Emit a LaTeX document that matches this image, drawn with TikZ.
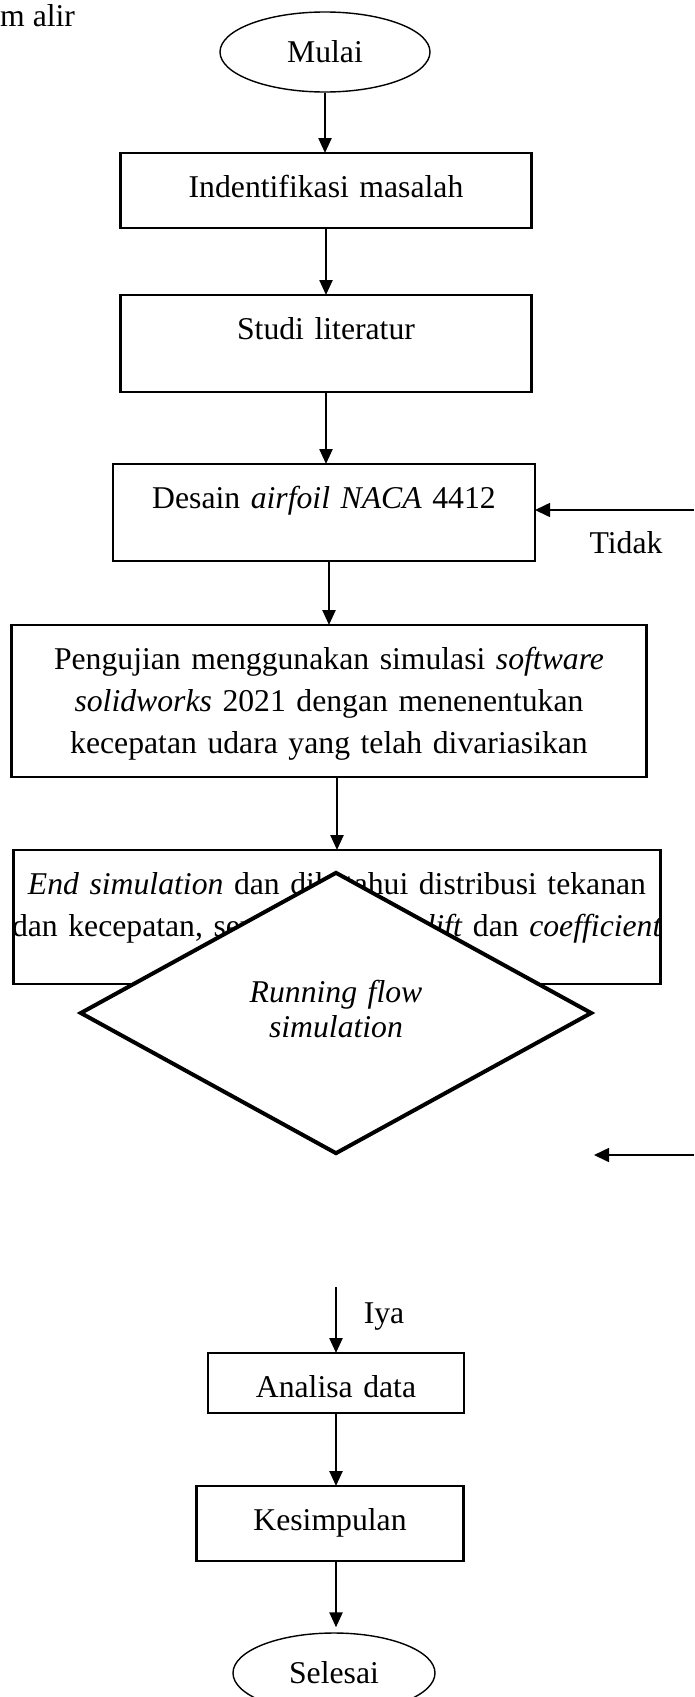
\documentclass[tikz,border=0pt]{standalone}
\usepackage{fontspec}
\setmainfont{Liberation Serif}
\usetikzlibrary{shapes.geometric, arrows.meta, positioning, calc}

\begin{document}
\begin{tikzpicture}[x=1pt, y=-1pt, font=\fontsize{31.7}{42}\selectfont]
            %Block styles
            \tikzstyle{terminal} = [draw, ellipse, line width=1.4pt, minimum width=210pt, minimum height=80pt, inner sep=0pt]
            \tikzstyle{proses} = [draw, rectangle, line width=2.4pt, anchor=north, inner sep=0pt, outer sep=0pt, text height=44pt, align=center]
            \tikzstyle{keputusan} = [draw, diamond, fill=white, line width=4pt, minimum width=512pt, minimum height=267pt, inner sep=0pt, text width=220pt, align=center, text height=20pt, text depth=42pt, font=\fontsize{31.7}{35}\selectfont\itshape]
            \tikzstyle{arr} = [-{Triangle[length=15pt, width=13pt]}, line width=2.4pt]
            \tikzstyle{thinarr} = [-{Triangle[length=15pt, width=14pt]}, line width=1.6pt]

            \useasboundingbox (0,0) rectangle (694,1697);

            %Nodes
            \node[anchor=base west, inner sep=0pt] (judul) at (0,27) {m alir};
            \node[terminal] (mulai) at (325,52) {Mulai};
            \node[proses, text width=411pt, text depth=31pt] (ident) at (326,153) {Indentifikasi masalah};
            \node[proses, text width=411pt, text depth=53pt] (studi) at (326,295) {Studi literatur};
            \node[proses, text width=422pt, text depth=53pt] (desain) at (324,464) {Desain \textit{airfoil NACA} 4412};
            \node[proses, text width=635pt, text depth=108pt] (uji) at (329,625) {Pengujian menggunakan simulasi \textit{software}\\ \textit{solidworks} 2021 dengan menenentukan\\ kecepatan udara yang telah divariasikan};
            %wider text than box, so the lines are not broken
            \node[proses, text width=707pt, inner xsep=-30pt, text depth=90pt] (endsim) at (337,850) {\textit{End simulation} dan diketahui distribusi tekanan\\ dan kecepatan, serta \textit{coefficient lift} dan \textit{coefficient}};
            \node[keputusan] (running) at (336,1013) {Running flow\\ simulation};
            \node[proses, text width=256pt, text depth=16pt] (analisa) at (336,1353) {Analisa data};
            \node[proses, text width=267pt, text depth=31pt] (kesimpulan) at (330,1486) {Kesimpulan};
            \node[terminal, minimum width=202pt] (selesai) at (334,1673) {Selesai};

            \coordinate (tidakmasuk) at (694,510);
            \coordinate (ulang) at (694,1155);
            \coordinate (iyamasuk) at (336,1287);
            \node[anchor=base] (tidak) at (626,553) {Tidak};
            \node[anchor=base] (iya) at (384,1323) {Iya};

            \draw[arr] (mulai.south) -- (mulai.south |- ident.north);
            \draw[arr] (ident.south) -- (studi.north);
            \draw[arr] (studi.south) -- (studi.south |- desain.north);
            \draw[arr] (desain.south -| uji.north) -- (uji.north);
            \draw[arr] (uji.south -| endsim.north) -- (endsim.north);
            \draw[thinarr] (tidakmasuk) -- (tidakmasuk -| desain.east);
            \draw[thinarr] (ulang) -- (ulang -| running.east);
            \draw[arr] (iyamasuk) -- (iyamasuk |- analisa.north);
            \draw[arr] (analisa.south) -- (analisa.south |- kesimpulan.north);
            \draw[arr, shorten >=5pt] (kesimpulan.south -| analisa.south) -- (selesai.north -| analisa.south);
        \end{tikzpicture}
\end{document}
